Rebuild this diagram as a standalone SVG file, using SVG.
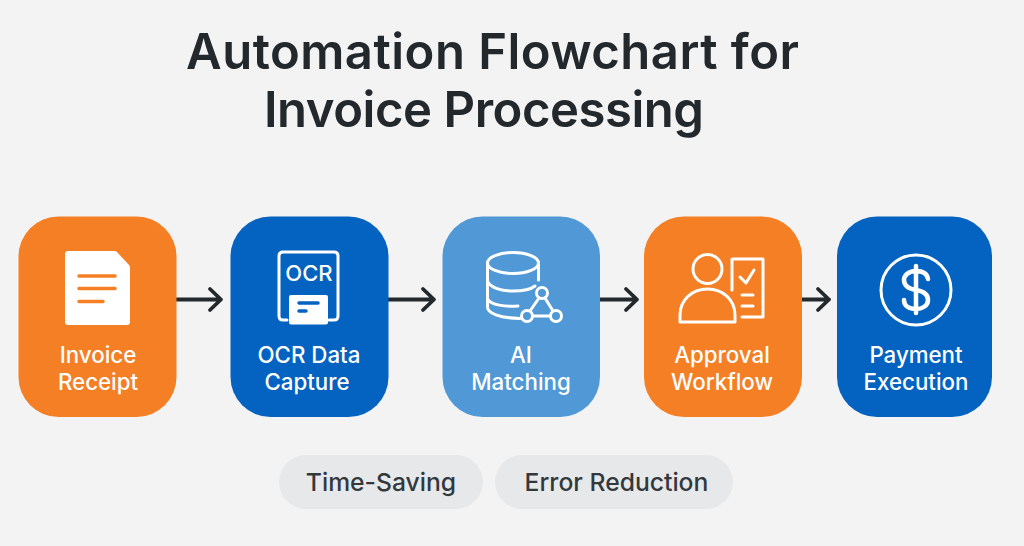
<svg xmlns="http://www.w3.org/2000/svg" width="1024" height="546" viewBox="0 0 1024 546">
<defs><style>
text{font-family:Inter,"Noto Sans",sans-serif;text-anchor:middle}
.t{font-size:49px;font-weight:560;fill:#23282d}
.l{font-size:22.300px;font-weight:450;fill:#fff}
.p{font-size:24.700px;font-weight:450;fill:#33383d}
.i{fill:none;stroke:#fff;stroke-width:3;stroke-linecap:round;stroke-linejoin:round}
.a{fill:none;stroke:#23282d;stroke-width:3.800;stroke-linecap:round;stroke-linejoin:round}
.o{fill:#f57f25}.b{fill:#0463c1}.c{fill:#5198d6}
.pill{fill:#e6e8ea}
</style></defs>
<rect id="background" width="1024" height="546" fill="#f3f3f3"/>
<g id="title"><text class="t" x="492.500" y="69" textLength="613" lengthAdjust="spacing">Automation Flowchart for</text><text class="t" x="484" y="127" textLength="440" lengthAdjust="spacing">Invoice Processing</text></g>
<g id="connectors">
<path class="a" d="M176 299.500H220M210 289L221 299.500L210 310"/>
<path class="a" d="M388 299.500H433M423 289L434 299.500L423 310"/>
<path class="a" d="M600 299.500H636M626 289L637 299.500L626 310"/>
<path class="a" d="M802 299.500H829M818 289L829 299.500L818 310"/>
</g>
<g id="invoice-receipt">
<rect class="o" x="18.500" y="216.500" width="158" height="200.500" rx="40"/>
<path fill="#fff" d="M68 251H114.500Q116 251 117 252L129 265Q130 266 130 268V322Q130 325 127 325H68Q65 325 65 322V254Q65 251 68 251Z"/>
<path d="M79 276H115M79 288.500H115M79 301.500H103" fill="none" stroke="#f57f25" stroke-width="3.500" stroke-linecap="round"/>
<text class="l" x="98" y="363">Invoice</text><text class="l" x="98" y="390">Receipt</text>
</g>
<g id="ocr-data-capture">
<rect class="b" x="230.500" y="216.500" width="158" height="200.500" rx="40"/>
<path class="i" d="M287 320H283Q279 320 279 316V256Q279 252 283 252H334Q338 252 338 256V316Q338 320 334 320H329"/>
<text x="309" y="281" font-size="22" font-weight="450" fill="#fff">OCR</text>
<rect x="289" y="295" width="39" height="29.500" rx="2" fill="#fff"/>
<path d="M299 303H318M299 311H306" fill="none" stroke="#0463c1" stroke-width="3.500" stroke-linecap="round"/>
<text class="l" x="309" y="363">OCR Data</text><text class="l" x="307" y="390">Capture</text>
</g>
<g id="ai-matching">
<rect class="c" x="442.500" y="216.500" width="157.500" height="200.500" rx="40"/>
<ellipse class="i" cx="513" cy="263" rx="25.500" ry="10.500"/>
<path class="i" d="M487.500 263V307C487.500 313 499 318 520 318.500M487.500 281C490 288 502 291 513 291C522 291 530 290 535 286M487.500 299C491 305 505 307 518 306M538.500 263V280"/>
<circle class="i" cx="542" cy="293" r="5.500"/><circle class="i" cx="527" cy="316" r="5.500"/><circle class="i" cx="556" cy="316" r="5.500"/>
<path class="i" d="M539 298L530 311M545 298L553 311M532.500 316H550.500"/>
<text class="l" x="521" y="363">AI</text><text class="l" x="521" y="390">Matching</text>
</g>
<g id="approval-workflow">
<rect class="o" x="644" y="216.500" width="158" height="200.500" rx="40"/>
<circle class="i" cx="707.500" cy="269" r="14.500"/>
<path class="i" d="M680 322V315C680 300 692 289 707.500 289C723 289 735 300 735 315V322Z"/>
<path class="i" d="M732 290V259H763V317H742"/>
<path class="i" d="M740 277L746 283L754 270M742 295H753M742 306H753"/>
<text class="l" x="722" y="363">Approval</text><text class="l" x="722" y="390">Workflow</text>
</g>
<g id="payment-execution">
<rect class="b" x="837" y="216.500" width="155" height="200.500" rx="40"/>
<circle class="i" cx="916" cy="290" r="35"/>
<path class="i" style="stroke-width:4.500" d="M928 279C927 273 922 271 916 271C909 271 904 275 904 280C904 287 910 289 916 290C922 291 928 294 928 300C928 306 922 309 916 309C909 309 904 306 904 300M916 266V313"/>
<text class="l" x="916" y="363">Payment</text><text class="l" x="916" y="390">Execution</text>
</g>
<g id="time-saving"><rect class="pill" x="279" y="455" width="204" height="54" rx="27"/><text class="p" x="381" y="491">Time-Saving</text></g>
<g id="error-reduction"><rect class="pill" x="495" y="455" width="238" height="54" rx="27"/><text class="p" x="616.500" y="491">Error Reduction</text></g>
</svg>
